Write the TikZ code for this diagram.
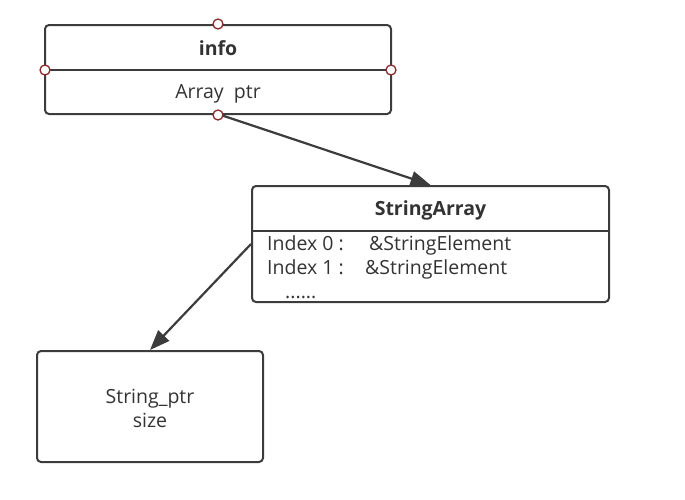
\documentclass[tikz,border=0pt]{standalone}
\usepackage{fontspec}
\setmainfont{Open Sans}
\usetikzlibrary{arrows.meta}
\definecolor{linec}{HTML}{3C3C3C}
\definecolor{portc}{HTML}{8B2A2A}
\definecolor{textc}{HTML}{333333}
\begin{document}
\begin{tikzpicture}[x=1pt,y=-1pt,
  box/.style={draw=linec,line width=2pt,rounded corners=4pt,fill=white,inner sep=0pt},
  port/.style={circle,draw=portc,line width=1.3pt,fill=white,minimum size=10pt,inner sep=0pt},
  lbl/.style={text=textc,font=\fontsize{19.5}{24}\selectfont,inner sep=0pt},
  blbl/.style={lbl,font=\fontsize{19.5}{24}\selectfont\bfseries},
  conn/.style={draw=linec,line width=2.2pt,-{Triangle[length=20pt,width=15pt]}}]
\useasboundingbox (0,0) rectangle (685,499);
% info box
\node[box,minimum width=346pt,minimum height=89pt] (info) at (218,69.5) {};
\draw[linec,line width=2pt] (45,70) -- (391,70);
\node[blbl] (infot) at (218,48) {info};
\node[lbl] (infop) at (218,94) {Array\ \ ptr};
% StringArray box
\node[box,minimum width=357pt,minimum height=116pt] (sa) at (430.5,244) {};
\draw[linec,line width=2pt] (252,231) -- (609,231);
\node[blbl] (sat) at (430.5,210) {StringArray};
\node[lbl,anchor=base west] (i0) at (267,250) {Index 0 :};
\node[lbl,anchor=base west] (i0v) at (369,250) {\&StringElement};
\node[lbl,anchor=base west] (i1) at (267,274) {Index 1 :};
\node[lbl,anchor=base west] (i1v) at (365,274) {\&StringElement};
\node[lbl,anchor=base west] (dots) at (285,298) {......};
% string box
\node[box,minimum width=226pt,minimum height=111pt] (str) at (150,406.5) {};
\node[lbl,align=center] (strt) at (150,408) {String\_ptr\\size};
% connectors
\draw[conn] (218,114) -- (sa.north);
\draw[conn] (sa.west) -- (str.north);
% ports
\node[port] (pn) at (info.north) {};
\node[port] (pw) at (45,70) {};
\node[port] (pe) at (391,70) {};
\node[port] (ps) at (info.south) {};
\end{tikzpicture}
\end{document}
